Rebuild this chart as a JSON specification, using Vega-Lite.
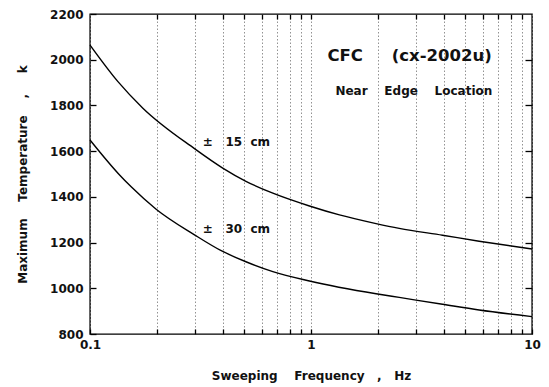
{
  "$schema": "https://vega.github.io/schema/vega-lite/v6.json",
  "width": 442,
  "height": 320,
  "autosize": {"type": "none"},
  "padding": {"left": 90, "top": 14, "right": 17, "bottom": 53},
  "background": "white",
  "config": {
    "view": {"stroke": "black", "strokeWidth": 1.4},
    "font": "DejaVu Sans",
    "axis": {"labelFont": "DejaVu Sans", "titleFont": "DejaVu Sans", "labelColor": "#111", "titleColor": "#111", "ticks": true}
  },
  "datasets": {
    "curves": [
      {"f": 0.1, "T": 2064, "s": "15"},
      {"f": 0.1338, "T": 1904, "s": "15"},
      {"f": 0.1735, "T": 1788, "s": "15"},
      {"f": 0.297, "T": 1611, "s": "15"},
      {"f": 0.3986, "T": 1526, "s": "15"},
      {"f": 0.5077, "T": 1468, "s": "15"},
      {"f": 0.672, "T": 1416, "s": "15"},
      {"f": 0.984, "T": 1360, "s": "15"},
      {"f": 1.345, "T": 1321, "s": "15"},
      {"f": 1.97, "T": 1283, "s": "15"},
      {"f": 2.508, "T": 1262, "s": "15"},
      {"f": 3.936, "T": 1232, "s": "15"},
      {"f": 5.765, "T": 1206, "s": "15"},
      {"f": 10, "T": 1172, "s": "15"},
      {"f": 0.1, "T": 1649, "s": "30"},
      {"f": 0.1361, "T": 1496, "s": "30"},
      {"f": 0.1536, "T": 1444, "s": "30"},
      {"f": 0.1992, "T": 1346, "s": "30"},
      {"f": 0.297, "T": 1234, "s": "30"},
      {"f": 0.3986, "T": 1161, "s": "30"},
      {"f": 0.5077, "T": 1116, "s": "30"},
      {"f": 0.672, "T": 1073, "s": "30"},
      {"f": 0.984, "T": 1032, "s": "30"},
      {"f": 1.97, "T": 976, "s": "30"},
      {"f": 2.508, "T": 960, "s": "30"},
      {"f": 3.936, "T": 930, "s": "30"},
      {"f": 5.765, "T": 905, "s": "30"},
      {"f": 10, "T": 876, "s": "30"}
    ],
    "labels": [
      {"f": 1.187, "T": 2015, "txt": "CFC\u00a0\u00a0\u00a0\u00a0\u00a0(cx-2002u)", "size": 16.5},
      {"f": 1.29, "T": 1864, "txt": "Near\u00a0\u00a0\u00a0\u00a0Edge\u00a0\u00a0\u00a0\u00a0Location", "size": 12},
      {"f": 0.324, "T": 1640, "txt": "±\u00a0\u00a0\u00a015\u00a0\u00a0cm", "size": 12},
      {"f": 0.324, "T": 1259, "txt": "±\u00a0\u00a0\u00a030\u00a0\u00a0cm", "size": 12}
    ]
  },
  "resolve": {"axis": {"x": "independent", "y": "independent"}},
  "layer": [
    {
      "data": {"name": "curves"},
      "mark": {"type": "line", "color": "black", "strokeWidth": 1.4, "interpolate": "monotone"},
      "encoding": {
        "x": {
          "field": "f", "type": "quantitative",
          "scale": {"type": "log", "domain": [0.1, 10], "nice": false},
          "axis": {
            "orient": "bottom", "offset": -5, "ticks": true,
            "values": [0.1,0.2,0.3,0.4,0.5,0.6,0.7,0.8,0.9,1,2,3,4,5,6,7,8,9,10],
            "labelExpr": "datum.value == 0.1 ? '0.1' : (datum.value == 1 ? '1' : (datum.value == 10 ? '10' : ''))",
            "grid": true, "gridDash": [1.5, 2], "gridColor": "#777", "gridWidth": 0.8,
            "tickSize": 5, "tickColor": "#000000", "tickWidth": 1.3, "tickOpacity": 1,
            "domain": false, "labelPadding": 5, "labelFontSize": 12, "labelFontWeight": "bold",
            "labelFlush": false,
            "title": "Sweeping\u00a0\u00a0\u00a0\u00a0Frequency\u00a0\u00a0\u00a0,\u00a0\u00a0\u00a0Hz",
            "titleFontSize": 12, "titleFontWeight": "bold", "titlePadding": 20
          }
        },
        "y": {
          "field": "T", "type": "quantitative",
          "scale": {"domain": [800, 2200], "nice": false, "zero": false},
          "axis": {
            "orient": "left", "format": "d", "offset": -6, "ticks": true,
            "values": [800,1000,1200,1400,1600,1800,2000,2200],
            "grid": false, "tickSize": 6, "tickColor": "#000000", "tickWidth": 1.3, "tickOpacity": 1, "domain": false,
            "labelPadding": 7, "labelFontSize": 12, "labelFontWeight": "bold",
            "labelFlush": false,
            "title": "Maximum\u00a0\u00a0\u00a0\u00a0Temperature\u00a0\u00a0\u00a0\u00a0,\u00a0\u00a0\u00a0\u00a0\u00a0k",
            "titleFontSize": 12, "titleFontWeight": "bold", "titlePadding": 20
          }
        },
        "detail": {"field": "s"}
      }
    },
    {
      "data": {"name": "curves"},
      "mark": {"type": "line", "opacity": 0},
      "encoding": {
        "x": {
          "field": "f", "type": "quantitative",
          "scale": {"type": "log", "domain": [0.1, 10], "nice": false},
          "axis": {
            "orient": "top", "offset": -5, "ticks": true,
            "values": [0.2,0.3,0.4,0.5,0.6,0.7,0.8,0.9,1,2,3,4,5,6,7,8,9],
            "labels": false, "grid": false, "domain": false,
            "tickSize": 5, "tickColor": "#000000", "tickWidth": 1.3, "tickOpacity": 1, "title": null
          }
        },
        "y": {
          "field": "T", "type": "quantitative",
          "scale": {"domain": [800, 2200], "nice": false, "zero": false},
          "axis": {
            "orient": "right", "offset": -7, "ticks": true,
            "values": [1000,1200,1400,1600,1800,2000],
            "labels": false, "grid": false, "domain": false,
            "tickSize": 7, "tickColor": "#000000", "tickWidth": 1.3, "tickOpacity": 1, "title": null
          }
        },
        "detail": {"field": "s"}
      }
    },
    {
      "data": {"name": "labels"},
      "mark": {"type": "text", "align": "left", "baseline": "middle", "font": "DejaVu Sans", "fontWeight": "bold", "color": "#111"},
      "encoding": {
        "x": {"field": "f", "type": "quantitative", "scale": {"type": "log", "domain": [0.1, 10], "nice": false}, "axis": null},
        "y": {"field": "T", "type": "quantitative", "scale": {"domain": [800, 2200], "nice": false, "zero": false}, "axis": null},
        "text": {"field": "txt"},
        "size": {"field": "size", "type": "quantitative", "scale": null}
      }
    }
  ]
}
